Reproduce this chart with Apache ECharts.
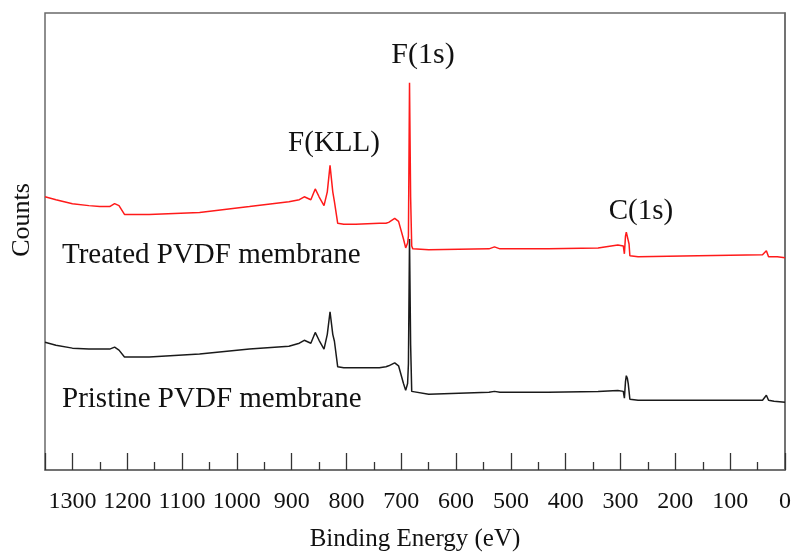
<!DOCTYPE html>
<html>
<head>
<meta charset="utf-8">
<script src="https://cdn.jsdelivr.net/npm/echarts@6/dist/echarts.min.js"></script>
<style>html,body{margin:0;padding:0;background:#fff}#c{width:794px;height:557px}</style>
</head>
<body>
<div id="c"></div>
<script>
// Binding energy (eV) / counts (arbitrary units, offset-stacked as in the figure)
var treatedEnergy = [1350,1330,1300,1270,1250,1232,1223,1215,1205,1160,1068,977,905,886,877,865,857,850,841,835,830,825,822,816,805,783,740,728,723,712,705,696,692,688.5,687,685,683,681,679,650,540,530,520,432,341,305,295,293,291,289.5,287.5,286,284.5,283,268,159,41,34,30,27,14,0];
var treatedCounts = [278,275,271,269,268,268,271,269,260,260,262,268,273,275,278,275,286,278,269,283,310,283,273,251,250,250,251,251,252,256,253,235,226,231,238,394,278,228,225,224,225,227,225,225,226,229,228,220,238,242,242,240,230,218,217,218,219,223,217,216,217,216];

var pristineEnergy = [1350,1330,1300,1270,1250,1232,1223,1215,1205,1160,1068,977,905,886,877,865,857,850,841,835,830,825,822,816,805,783,740,728,723,712,705,696,692,688.5,687,685,683,681,679,650,540,530,520,432,341,305,295,293,291,289.5,287.5,286,284.5,283,268,159,41,34,30,20,0];
var pristineCounts = [130,127,124,123,123,123,125,122,115,115,118,123,126,129,132,129,140,132,123,138,161,138,131,105,104,104,104,105,106,109,106,88,81,88,108,235,128,80,78,77,79,80,79,79,80,81,80,73,90,96,93,88,80,72,71,71,71,76,71,70,69];

var xTickValues = [1300,1200,1100,1000,900,800,700,600,500,400,300,200,100,0];

function pairs(xs, ys){ return xs.map(function(x,i){ return [x, ys[i]]; }); }

var serif = '"Liberation Serif","Times New Roman",serif';
var chart = echarts.init(document.getElementById('c'), null, {renderer:'canvas'});
chart.setOption({
  animation:false,
  backgroundColor:'#fff',
  grid:{left:45, top:13, right:7, bottom:79, show:true, borderColor:'#6a6a6a', borderWidth:1.5, backgroundColor:'transparent'},
  xAxis:{
    type:'value', min:0, max:1350, interval:100, inverse:true,
    axisLine:{show:true, lineStyle:{color:'#6a6a6a', width:1.5}},
    axisTick:{show:true, inside:true, length:17, lineStyle:{color:'#333', width:1.3}},
    minorTick:{show:true, splitNumber:2, length:8, lineStyle:{color:'#333', width:1.3}},
    splitLine:{show:false},
    axisLabel:{show:true, margin:20, fontFamily:serif, fontSize:24, color:'#111', showMaxLabel:false,
      formatter:function(v){ return xTickValues.indexOf(v) >= 0 ? String(v) : ''; }},
    name:'Binding Energy (eV)', nameLocation:'middle', nameGap:57,
    nameTextStyle:{fontFamily:serif, fontSize:25, color:'#111'}
  },
  yAxis:{
    type:'value', min:0, max:465,
    axisLine:{show:true, lineStyle:{color:'#6a6a6a', width:1.5}},
    axisTick:{show:false}, axisLabel:{show:false}, splitLine:{show:false}
  },
  series:[
    {type:'line', name:'Treated PVDF membrane', data:pairs(treatedEnergy, treatedCounts), showSymbol:false, symbol:'none',
      lineStyle:{color:'#ff1a1a', width:1.5}, z:2},
    {type:'line', name:'Pristine PVDF membrane', data:pairs(pristineEnergy, pristineCounts), showSymbol:false, symbol:'none',
      lineStyle:{color:'#1a1a1a', width:1.5}, z:3}
  ],
  graphic:[
    {type:'text', rotation:Math.PI/2, x:22, y:220, style:{text:'Counts', font:'26px '+serif, fill:'#111', textAlign:'center', textVerticalAlign:'middle'}},
    {type:'text', x:334, y:143, style:{text:'F(KLL)', font:'29px '+serif, fill:'#111', textAlign:'center', textVerticalAlign:'middle'}},
    {type:'text', x:423, y:55, style:{text:'F(1s)', font:'30px '+serif, fill:'#111', textAlign:'center', textVerticalAlign:'middle'}},
    {type:'text', x:641, y:211, style:{text:'C(1s)', font:'29px '+serif, fill:'#111', textAlign:'center', textVerticalAlign:'middle'}},
    {type:'text', x:62, y:255, style:{text:'Treated PVDF membrane', font:'29px '+serif, fill:'#111', textAlign:'left', textVerticalAlign:'middle'}},
    {type:'text', x:62, y:399, style:{text:'Pristine PVDF membrane', font:'29px '+serif, fill:'#111', textAlign:'left', textVerticalAlign:'middle'}}
  ]
});
</script>
</body>
</html>
